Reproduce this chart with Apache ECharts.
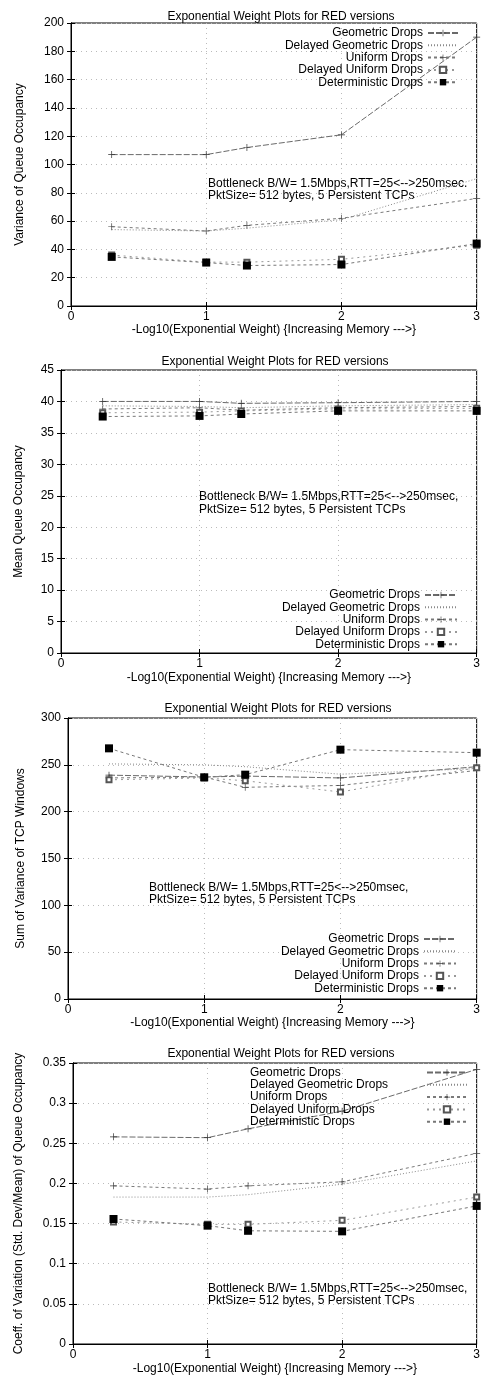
<!DOCTYPE html>
<html>
<head>
<meta charset="utf-8">
<script src="https://cdn.jsdelivr.net/npm/echarts@6/dist/echarts.min.js"></script>
<style>
html,body{margin:0;padding:0;background:#fff;}
#chart{width:483px;height:1378px;}
</style>
</head>
<body>
<div id="chart"></div>
<script>
// ---- data ----
const xValues = [0.301, 1, 1.301, 2, 3];
const seriesNames = ['Geometric Drops', 'Delayed Geometric Drops', 'Uniform Drops', 'Delayed Uniform Drops', 'Deterministic Drops'];
const xTicks = [0, 1, 2, 3];

// Panel 1: Variance of Queue Occupancy
const varGeometric = [107, 107, 112, 121, 190];
const varDelayedGeometric = [54, 53, 55, 61, 90];
const varUniform = [56, 53, 57, 62, 76];
const varDelayedUniform = [36, 31, 31, 33, 43];
const varDeterministic = [34.7, 30.7, 28.6, 29.3, 44.1];

// Panel 2: Mean Queue Occupancy
const meanGeometric = [40.0, 40.0, 39.7, 39.8, 40.0];
const meanDelayedGeometric = [39.3, 39.2, 39.0, 39.3, 39.5];
const meanUniform = [38.8, 39.0, 38.6, 39.0, 39.2];
const meanDelayedUniform = [38.2, 38.3, 38.5, 38.8, 38.9];
const meanDeterministic = [37.6, 37.7, 38.0, 38.5, 38.5];

// Panel 3: Sum of Variance of TCP Windows
const winGeometric = [239, 237, 238, 236, 248];
const winDelayedGeometric = [251, 250, 248, 240, 246];
const winUniform = [236, 237, 226, 228, 244];
const winDelayedUniform = [234, 236, 233, 221, 247];
const winDeterministic = [267.6, 236.7, 239.5, 266.2, 263];

// Panel 4: Coefficient of Variation
const covGeometric = [0.258, 0.257, 0.268, 0.29, 0.342];
const covDelayedGeometric = [0.183, 0.183, 0.186, 0.199, 0.228];
const covUniform = [0.197, 0.193, 0.197, 0.202, 0.2375];
const covDelayedUniform = [0.152, 0.149, 0.149, 0.154, 0.183];
const covDeterministic = [0.1557, 0.1474, 0.141, 0.1403, 0.172];

const panelTitle = 'Exponential Weight Plots for RED versions';
const xName = '-Log10(Exponential Weight) {Increasing Memory --->}';
const yNames = ['Variance of Queue Occupancy', 'Mean Queue Occupancy', 'Sum of Variance of TCP Windows', 'Coeff. of Variation (Std. Dev/Mean) of Queue Occupancy'];
const noteLine1 = ['Bottleneck B/W= 1.5Mbps,RTT=25<-->250msec.', 'Bottleneck B/W= 1.5Mbps,RTT=25<-->250msec,', 'Bottleneck B/W= 1.5Mbps,RTT=25<-->250msec,', 'Bottleneck B/W= 1.5Mbps,RTT=25<-->250msec,'];
const noteLine2 = 'PktSize= 512 bytes, 5 Persistent TCPs';

const panelData = [
  [varGeometric, varDelayedGeometric, varUniform, varDelayedUniform, varDeterministic],
  [meanGeometric, meanDelayedGeometric, meanUniform, meanDelayedUniform, meanDeterministic],
  [winGeometric, winDelayedGeometric, winUniform, winDelayedUniform, winDeterministic],
  [covGeometric, covDelayedGeometric, covUniform, covDelayedUniform, covDeterministic]
];
const yMin = [0, 0, 0, 0];
const yMax = [200, 45, 300, 0.35];
const yInterval = [20, 5, 50, 0.05];

// ---- layout / style ----
const FONT = 'Liberation Sans, Arial, Helvetica, sans-serif';
const grids = [
  {left: 71, top: 23, width: 407, height: 283},
  {left: 61, top: 370, width: 416, height: 283},
  {left: 68, top: 718, width: 409, height: 281},
  {left: 73, top: 1063, width: 404, height: 281}
];
const yNameGap = [45, 36, 41, 48];
const xNameGap = [17, 19, 18, 19];
const titleCenters = [[276, 6], [270, 351], [273, 698], [276, 1043]];
const notePos = [[208, 178, 11.5], [199, 490, 13], [149, 882, 12], [208, 1282, 12.4]];
const legendPos = [
  {left: 283, top: 27, width: 140, align: 'right', iw: 30},
  {left: 280, top: 589, width: 140, align: 'right', iw: 32},
  {left: 279, top: 933, width: 140, align: 'right', iw: 32},
  {left: 250, top: 1066.5, width: 172, align: 'left', iw: 40}
];

const plusPath = 'path://M4.5,0h1v10h-1z M0,4.5h10v1h-10z';
const seriesStyles = [
  {line: {color: '#6a6a6a', width: 1, type: [6, 2]}, symbol: plusPath, size: 7, color: '#333', hide: false},
  {line: {color: '#8a8a8a', width: 1, type: [1, 2]}, symbol: 'circle', size: 2, color: '#888', hide: true},
  {line: {color: '#7a7a7a', width: 1, type: [3, 3]}, symbol: plusPath, size: 7, color: '#444', hide: false},
  {line: {color: '#999', width: 1, type: [2, 4]}, symbol: 'emptyRect', size: 5, color: '#555', hide: false},
  {line: {color: '#777', width: 1, type: [3, 3]}, symbol: 'rect', size: 8, color: '#000', hide: false}
];

const option = {
  animation: false,
  backgroundColor: '#fff',
  textStyle: {fontFamily: FONT, color: '#000'},
  title: titleCenters.map(c => ({
    text: panelTitle, left: c[0], top: c[1], textAlign: 'center',
    textStyle: {fontSize: 12, fontWeight: 'normal', color: '#000', fontFamily: FONT}
  })),
  grid: grids.map(g => Object.assign({show: true, borderColor: '#000', borderWidth: 1, backgroundColor: 'transparent'}, g)),
  legend: legendPos.map(l => ({
    data: seriesNames, orient: 'vertical', left: l.left, top: l.top, align: 'right',
    itemWidth: l.iw, itemHeight: 8, itemGap: 0.3, selectedMode: false, padding: 0,
    formatter: name => '{t|' + name + '}',
    textStyle: {fontSize: 12, color: '#000', fontFamily: FONT,
      rich: {t: {width: l.width, align: l.align, fontSize: 12, lineHeight: 12, color: '#000', fontFamily: FONT}}}
  })),
  xAxis: [],
  yAxis: [],
  series: [],
  graphic: []
};

for (let p = 0; p < 4; p++) {
  option.xAxis.push({
    type: 'value', gridIndex: p, min: 0, max: 3, interval: 1, position: 'bottom',
    name: xName, nameLocation: 'middle', nameGap: xNameGap[p],
    nameTextStyle: {fontSize: 12, color: '#000', fontFamily: FONT},
    axisLine: {show: true, lineStyle: {color: '#000', width: 1}},
    axisTick: {show: true, inside: true, length: 4, lineStyle: {color: '#000'}},
    axisLabel: {fontSize: 12, color: '#000', margin: 5, fontFamily: FONT, formatter: v => xTicks.includes(v) ? String(v) : ''},
    splitLine: {show: true, lineStyle: {color: '#bbb', type: [1, 4], width: 1}}
  });
  option.xAxis.push({
    type: 'value', gridIndex: p, min: 0, max: 3, interval: 1, position: 'top',
    axisLine: {show: true, lineStyle: {color: '#000'}},
    axisTick: {show: true, inside: true, length: 4, lineStyle: {color: '#000'}},
    axisLabel: {show: false}, splitLine: {show: false}
  });
  option.yAxis.push({
    type: 'value', gridIndex: p, min: yMin[p], max: yMax[p], interval: yInterval[p], position: 'left',
    name: yNames[p], nameLocation: 'middle', nameGap: yNameGap[p], nameRotate: 90,
    nameTextStyle: {fontSize: 12, color: '#000', fontFamily: FONT},
    axisLine: {show: true, lineStyle: {color: '#000', width: 1}},
    axisTick: {show: true, inside: true, length: 4, lineStyle: {color: '#000'}},
    axisLabel: {fontSize: 12, color: '#000', margin: 7, fontFamily: FONT,
      formatter: v => String(+v.toFixed(2))},
    splitLine: {show: true, lineStyle: {color: '#bbb', type: [1, 4], width: 1}}
  });
  option.yAxis.push({
    type: 'value', gridIndex: p, min: yMin[p], max: yMax[p], interval: yInterval[p], position: 'right',
    axisLine: {show: true, lineStyle: {color: '#000'}},
    axisTick: {show: true, inside: true, length: 4, lineStyle: {color: '#000'}},
    axisLabel: {show: false}, splitLine: {show: false}
  });
  for (let s = 0; s < 5; s++) {
    const st = seriesStyles[s];
    option.series.push({
      type: 'line', name: seriesNames[s],
      xAxisIndex: p * 2, yAxisIndex: p * 2,
      data: xValues.map((x, i) => [x, panelData[p][s][i]]),
      symbol: st.symbol, symbolSize: st.size, showSymbol: true,
      lineStyle: st.line,
      itemStyle: {color: st.color, borderColor: st.color, borderWidth: st.symbol === 'emptyRect' ? 1 : 0, opacity: st.hide ? 0 : 1},
      z: 2 + s, clip: true, silent: true
    });
  }
  const np = notePos[p];
  option.graphic.push({
    type: 'text', x: np[0], y: np[1], silent: true,
    style: {text: noteLine1[p] + '\n' + noteLine2, fontSize: 12, fontFamily: FONT, lineHeight: np[2], fill: '#000'}
  });
}

const chart = echarts.init(document.getElementById('chart'), null, {renderer: 'canvas'});
chart.setOption(option);
</script>
</body>
</html>
